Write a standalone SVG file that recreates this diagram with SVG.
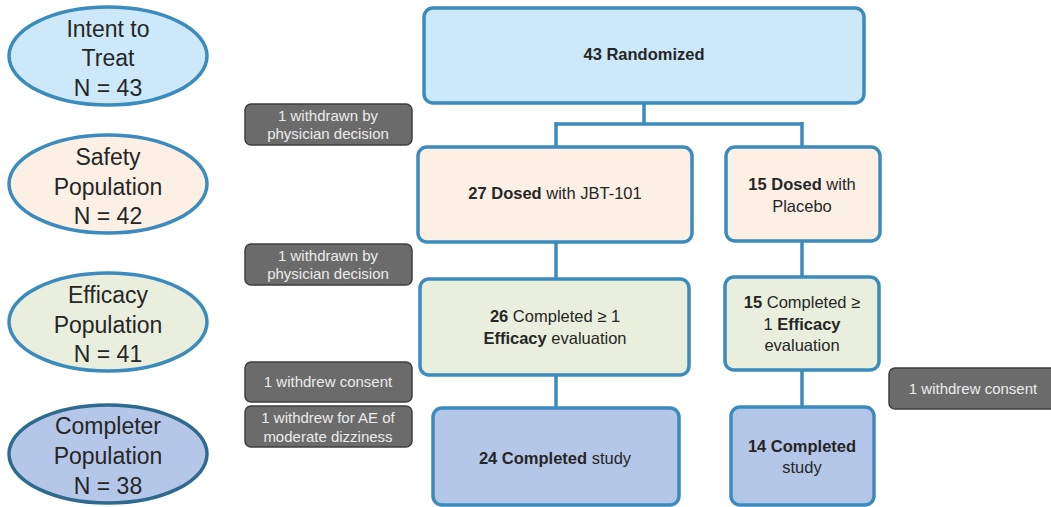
<svg xmlns="http://www.w3.org/2000/svg" width="1051" height="507" viewBox="0 0 1051 507">
<style>
text{font-family:"Liberation Sans",Arial,sans-serif;fill:#262626;text-anchor:middle}
.pop{font-size:23px}
.box{stroke:#3b8bbd;stroke-width:3.5}
.ell{stroke:#3b8bbd;stroke-width:3.5}
.lbl{font-size:16.5px}
.gray{fill:#6b6b6b;stroke:#3f3f3f;stroke-width:1.5}
.gt{font-size:15px;fill:#ececec}
.conn{fill:none;stroke:#3b8bbd;stroke-width:3.5}
.b{font-weight:bold}
</style>
<rect width="1051" height="507" fill="#ffffff"/>
<g id="connectors">
<path class="conn" d="M644,103 V124 M556,124 H802 M556,122 V147 M802,122 V147"/>
<path class="conn" d="M556,242 V279"/>
<path class="conn" d="M556,375 V408"/>
<path class="conn" d="M802,241 V277"/>
<path class="conn" d="M802,370 V407"/>
</g>
<g id="itt">
<ellipse class="ell" cx="108" cy="56" rx="99" ry="49" fill="#cce8f9"/>
<text class="pop" x="108" y="37">Intent to</text>
<text class="pop" x="108" y="66">Treat</text>
<text class="pop" x="108" y="96">N = 43</text>
</g>
<g id="safety">
<ellipse class="ell" cx="108" cy="184" rx="99" ry="49" fill="#fcefe4"/>
<text class="pop" x="108" y="165">Safety</text>
<text class="pop" x="108" y="195">Population</text>
<text class="pop" x="108" y="224">N = 42</text>
</g>
<g id="efficacy">
<ellipse class="ell" cx="108" cy="322" rx="99" ry="49" fill="#e9efdc"/>
<text class="pop" x="108" y="303">Efficacy</text>
<text class="pop" x="108" y="333">Population</text>
<text class="pop" x="108" y="362">N = 41</text>
</g>
<g id="completer">
<ellipse cx="108" cy="454" rx="99" ry="49" fill="#b4c7e8" stroke="#2d6a8e" stroke-width="3.5"/>
<text class="pop" x="108" y="434">Completer</text>
<text class="pop" x="108" y="464">Population</text>
<text class="pop" x="108" y="494">N = 38</text>
</g>
<g id="randomized">
<rect class="box" x="424" y="8" width="440" height="95" rx="9" fill="#cce8f9"/>
<text class="lbl b" x="644" y="60">43 Randomized</text>
</g>
<g id="dosed-jbt">
<rect class="box" x="418" y="147" width="274" height="95" rx="9" fill="#fcefe4"/>
<text class="lbl" x="555" y="199"><tspan class="b">27 Dosed</tspan> with JBT-101</text>
</g>
<g id="dosed-placebo">
<rect class="box" x="726" y="147" width="154" height="94" rx="9" fill="#fcefe4"/>
<text class="lbl" x="802" y="190"><tspan class="b">15 Dosed</tspan> with</text>
<text class="lbl" x="802" y="212">Placebo</text>
</g>
<g id="eff-jbt">
<rect class="box" x="420" y="279" width="269" height="96" rx="9" fill="#e9efdc"/>
<text class="lbl" x="555" y="322"><tspan class="b">26</tspan> Completed ≥ 1</text>
<text class="lbl" x="555" y="344"><tspan class="b">Efficacy</tspan> evaluation</text>
</g>
<g id="eff-placebo">
<rect class="box" x="725" y="277" width="154" height="93" rx="9" fill="#e9efdc"/>
<text class="lbl" x="802" y="308"><tspan class="b">15</tspan> Completed ≥</text>
<text class="lbl" x="802" y="330">1 <tspan class="b">Efficacy</tspan></text>
<text class="lbl" x="802" y="351">evaluation</text>
</g>
<g id="comp-jbt">
<rect class="box" x="433" y="408" width="246" height="97" rx="9" fill="#b4c7e8"/>
<text class="lbl" x="555" y="464"><tspan class="b">24 Completed</tspan> study</text>
</g>
<g id="comp-placebo">
<rect class="box" x="731" y="407" width="143" height="98" rx="9" fill="#b4c7e8"/>
<text class="lbl b" x="802" y="452">14 Completed</text>
<text class="lbl" x="802" y="473">study</text>
</g>
<g id="w1">
<rect class="gray" x="245" y="104" width="167" height="41" rx="6"/>
<text class="gt" x="328" y="121">1 withdrawn by</text>
<text class="gt" x="328" y="139">physician decision</text>
</g>
<g id="w2">
<rect class="gray" x="245" y="244" width="167" height="41" rx="6"/>
<text class="gt" x="328" y="261">1 withdrawn by</text>
<text class="gt" x="328" y="279">physician decision</text>
</g>
<g id="w3">
<rect class="gray" x="245" y="362" width="167" height="40" rx="6"/>
<text class="gt" x="328" y="387">1 withdrew consent</text>
</g>
<g id="w4">
<rect class="gray" x="245" y="406" width="167" height="41" rx="6"/>
<text class="gt" x="328" y="423">1 withdrew for AE of</text>
<text class="gt" x="328" y="442">moderate dizziness</text>
</g>
<g id="w5">
<rect class="gray" x="889" y="368" width="170" height="41" rx="6"/>
<text class="gt" x="973" y="394">1 withdrew consent</text>
</g>
</svg>
